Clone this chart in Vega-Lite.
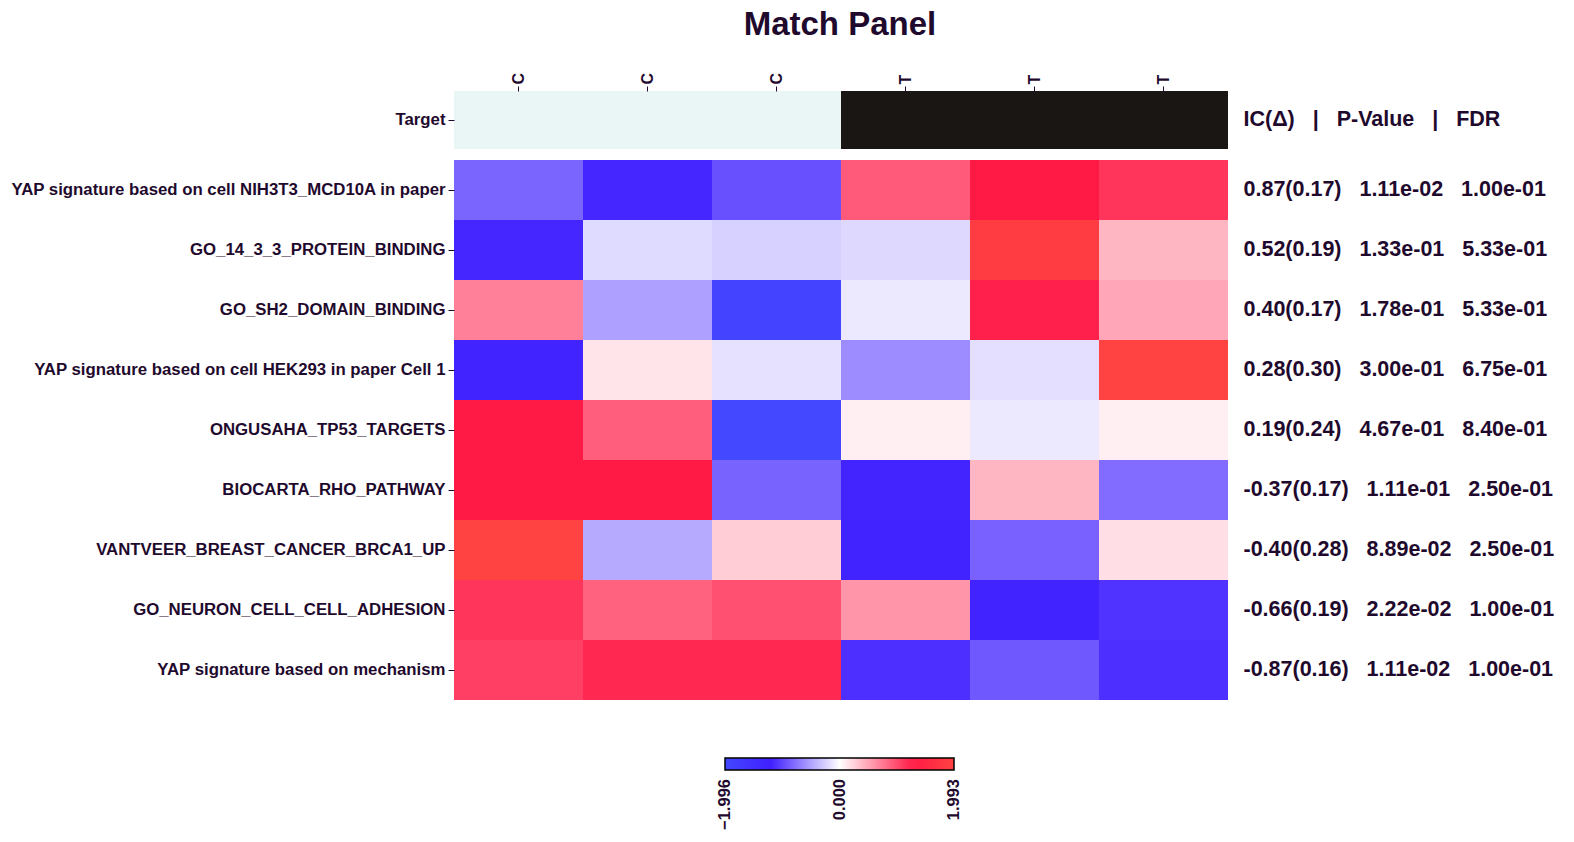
{
  "$schema": "https://vega.github.io/schema/vega-lite/v6.json",
  "background": "white",
  "padding": {"left": 10, "top": 9, "right": 5, "bottom": 5},
  "config": {
    "font": "Liberation Sans",
    "view": {"stroke": null},
    "axis": {"labelFont": "Liberation Sans", "labelFontWeight": "bold", "labelColor": "#1f0a2e", "tickColor": "#1f0a2e", "domain": false, "grid": false}
  },
  "title": {"text": "Match Panel", "fontSize": 33, "fontWeight": "bold", "color": "#1f0a2e", "font": "Liberation Sans", "anchor": "middle", "offset": 30, "dx": 58},
  "spacing": 11,
  "datasets": {
    "target": [
      {"sample": "C1", "label": "C", "row": "Target", "header": "IC(Δ)\u00a0\u00a0\u00a0|\u00a0\u00a0\u00a0P-Value\u00a0\u00a0\u00a0|\u00a0\u00a0\u00a0FDR"},
      {"sample": "C2", "label": "C", "row": "Target", "header": "IC(Δ)\u00a0\u00a0\u00a0|\u00a0\u00a0\u00a0P-Value\u00a0\u00a0\u00a0|\u00a0\u00a0\u00a0FDR"},
      {"sample": "C3", "label": "C", "row": "Target", "header": "IC(Δ)\u00a0\u00a0\u00a0|\u00a0\u00a0\u00a0P-Value\u00a0\u00a0\u00a0|\u00a0\u00a0\u00a0FDR"},
      {"sample": "T1", "label": "T", "row": "Target", "header": "IC(Δ)\u00a0\u00a0\u00a0|\u00a0\u00a0\u00a0P-Value\u00a0\u00a0\u00a0|\u00a0\u00a0\u00a0FDR"},
      {"sample": "T2", "label": "T", "row": "Target", "header": "IC(Δ)\u00a0\u00a0\u00a0|\u00a0\u00a0\u00a0P-Value\u00a0\u00a0\u00a0|\u00a0\u00a0\u00a0FDR"},
      {"sample": "T3", "label": "T", "row": "Target", "header": "IC(Δ)\u00a0\u00a0\u00a0|\u00a0\u00a0\u00a0P-Value\u00a0\u00a0\u00a0|\u00a0\u00a0\u00a0FDR"}
    ],
    "rowstats": [
      {"order": 1, "stat": "0.87(0.17)\u00a0\u00a0\u00a01.11e-02\u00a0\u00a0\u00a01.00e-01"},
      {"order": 2, "stat": "0.52(0.19)\u00a0\u00a0\u00a01.33e-01\u00a0\u00a0\u00a05.33e-01"},
      {"order": 3, "stat": "0.40(0.17)\u00a0\u00a0\u00a01.78e-01\u00a0\u00a0\u00a05.33e-01"},
      {"order": 4, "stat": "0.28(0.30)\u00a0\u00a0\u00a03.00e-01\u00a0\u00a0\u00a06.75e-01"},
      {"order": 5, "stat": "0.19(0.24)\u00a0\u00a0\u00a04.67e-01\u00a0\u00a0\u00a08.40e-01"},
      {"order": 6, "stat": "-0.37(0.17)\u00a0\u00a0\u00a01.11e-01\u00a0\u00a0\u00a02.50e-01"},
      {"order": 7, "stat": "-0.40(0.28)\u00a0\u00a0\u00a08.89e-02\u00a0\u00a0\u00a02.50e-01"},
      {"order": 8, "stat": "-0.66(0.19)\u00a0\u00a0\u00a02.22e-02\u00a0\u00a0\u00a01.00e-01"},
      {"order": 9, "stat": "-0.87(0.16)\u00a0\u00a0\u00a01.11e-02\u00a0\u00a0\u00a01.00e-01"}
    ],
    "cells": [
      {"order": 1, "set": "YAP signature based on cell NIH3T3_MCD10A in paper", "sample": "C1", "value": -0.83},
      {"order": 1, "set": "YAP signature based on cell NIH3T3_MCD10A in paper", "sample": "C2", "value": -1.17},
      {"order": 1, "set": "YAP signature based on cell NIH3T3_MCD10A in paper", "sample": "C3", "value": -0.94},
      {"order": 1, "set": "YAP signature based on cell NIH3T3_MCD10A in paper", "sample": "T1", "value": 0.92},
      {"order": 1, "set": "YAP signature based on cell NIH3T3_MCD10A in paper", "sample": "T2", "value": 1.28},
      {"order": 1, "set": "YAP signature based on cell NIH3T3_MCD10A in paper", "sample": "T3", "value": 1.13},
      {"order": 2, "set": "GO_14_3_3_PROTEIN_BINDING", "sample": "C1", "value": -1.17},
      {"order": 2, "set": "GO_14_3_3_PROTEIN_BINDING", "sample": "C2", "value": -0.2},
      {"order": 2, "set": "GO_14_3_3_PROTEIN_BINDING", "sample": "C3", "value": -0.25},
      {"order": 2, "set": "GO_14_3_3_PROTEIN_BINDING", "sample": "T1", "value": -0.21},
      {"order": 2, "set": "GO_14_3_3_PROTEIN_BINDING", "sample": "T2", "value": 1.88},
      {"order": 2, "set": "GO_14_3_3_PROTEIN_BINDING", "sample": "T3", "value": 0.41},
      {"order": 3, "set": "GO_SH2_DOMAIN_BINDING", "sample": "C1", "value": 0.71},
      {"order": 3, "set": "GO_SH2_DOMAIN_BINDING", "sample": "C2", "value": -0.51},
      {"order": 3, "set": "GO_SH2_DOMAIN_BINDING", "sample": "C3", "value": -1.9},
      {"order": 3, "set": "GO_SH2_DOMAIN_BINDING", "sample": "T1", "value": -0.12},
      {"order": 3, "set": "GO_SH2_DOMAIN_BINDING", "sample": "T2", "value": 1.24},
      {"order": 3, "set": "GO_SH2_DOMAIN_BINDING", "sample": "T3", "value": 0.49},
      {"order": 4, "set": "YAP signature based on cell HEK293 in paper Cell 1", "sample": "C1", "value": -1.25},
      {"order": 4, "set": "YAP signature based on cell HEK293 in paper Cell 1", "sample": "C2", "value": 0.15},
      {"order": 4, "set": "YAP signature based on cell HEK293 in paper Cell 1", "sample": "C3", "value": -0.16},
      {"order": 4, "set": "YAP signature based on cell HEK293 in paper Cell 1", "sample": "T1", "value": -0.62},
      {"order": 4, "set": "YAP signature based on cell HEK293 in paper Cell 1", "sample": "T2", "value": -0.17},
      {"order": 4, "set": "YAP signature based on cell HEK293 in paper Cell 1", "sample": "T3", "value": 1.99},
      {"order": 5, "set": "ONGUSAHA_TP53_TARGETS", "sample": "C1", "value": 1.28},
      {"order": 5, "set": "ONGUSAHA_TP53_TARGETS", "sample": "C2", "value": 0.9},
      {"order": 5, "set": "ONGUSAHA_TP53_TARGETS", "sample": "C3", "value": -1.99},
      {"order": 5, "set": "ONGUSAHA_TP53_TARGETS", "sample": "T1", "value": 0.09},
      {"order": 5, "set": "ONGUSAHA_TP53_TARGETS", "sample": "T2", "value": -0.12},
      {"order": 5, "set": "ONGUSAHA_TP53_TARGETS", "sample": "T3", "value": 0.09},
      {"order": 6, "set": "BIOCARTA_RHO_PATHWAY", "sample": "C1", "value": 1.28},
      {"order": 6, "set": "BIOCARTA_RHO_PATHWAY", "sample": "C2", "value": 1.28},
      {"order": 6, "set": "BIOCARTA_RHO_PATHWAY", "sample": "C3", "value": -0.84},
      {"order": 6, "set": "BIOCARTA_RHO_PATHWAY", "sample": "T1", "value": -1.18},
      {"order": 6, "set": "BIOCARTA_RHO_PATHWAY", "sample": "T2", "value": 0.41},
      {"order": 6, "set": "BIOCARTA_RHO_PATHWAY", "sample": "T3", "value": -0.79},
      {"order": 7, "set": "VANTVEER_BREAST_CANCER_BRCA1_UP", "sample": "C1", "value": 1.99},
      {"order": 7, "set": "VANTVEER_BREAST_CANCER_BRCA1_UP", "sample": "C2", "value": -0.46},
      {"order": 7, "set": "VANTVEER_BREAST_CANCER_BRCA1_UP", "sample": "C3", "value": 0.28},
      {"order": 7, "set": "VANTVEER_BREAST_CANCER_BRCA1_UP", "sample": "T1", "value": -1.25},
      {"order": 7, "set": "VANTVEER_BREAST_CANCER_BRCA1_UP", "sample": "T2", "value": -0.85},
      {"order": 7, "set": "VANTVEER_BREAST_CANCER_BRCA1_UP", "sample": "T3", "value": 0.18},
      {"order": 8, "set": "GO_NEURON_CELL_CELL_ADHESION", "sample": "C1", "value": 1.13},
      {"order": 8, "set": "GO_NEURON_CELL_CELL_ADHESION", "sample": "C2", "value": 0.88},
      {"order": 8, "set": "GO_NEURON_CELL_CELL_ADHESION", "sample": "C3", "value": 0.98},
      {"order": 8, "set": "GO_NEURON_CELL_CELL_ADHESION", "sample": "T1", "value": 0.59},
      {"order": 8, "set": "GO_NEURON_CELL_CELL_ADHESION", "sample": "T2", "value": -1.25},
      {"order": 8, "set": "GO_NEURON_CELL_CELL_ADHESION", "sample": "T3", "value": -1.1},
      {"order": 9, "set": "YAP signature based on mechanism", "sample": "C1", "value": 1.07},
      {"order": 9, "set": "YAP signature based on mechanism", "sample": "C2", "value": 1.2},
      {"order": 9, "set": "YAP signature based on mechanism", "sample": "C3", "value": 1.2},
      {"order": 9, "set": "YAP signature based on mechanism", "sample": "T1", "value": -1.12},
      {"order": 9, "set": "YAP signature based on mechanism", "sample": "T2", "value": -0.9},
      {"order": 9, "set": "YAP signature based on mechanism", "sample": "T3", "value": -1.12}
    ]
  },
  "vconcat": [
    {
      "width": 774,
      "height": 58,
      "data": {"name": "target"},
      "layer": [
        {
          "mark": {"type": "rect"},
          "encoding": {
            "x": {"field": "sample", "type": "ordinal", "axis": {"orient": "top", "title": null, "labelAngle": -90, "labelAlign": "left", "labelBaseline": "middle", "labelExpr": "slice(datum.label, 0, 1)", "labelFontSize": 16, "tickSize": 5, "labelPadding": 2}},
            "y": {"field": "row", "type": "nominal", "axis": {"title": null, "labelFontSize": 16.8, "tickSize": 6, "labelPadding": 3}},
            "color": {"field": "label", "type": "nominal", "scale": {"domain": ["C", "T"], "range": ["#eaf6f6", "#1a1614"]}, "legend": null}
          }
        },
        {
          "mark": {"type": "rect", "opacity": 0},
          "encoding": {
            "y": {"field": "header", "type": "nominal", "axis": {"orient": "right", "title": null, "ticks": false, "labelFontSize": 21.5, "labelPadding": 15, "labelLimit": 600, "labelAlign": "left"}}
          }
        }
      ],
      "resolve": {"scale": {"y": "independent"}}
    },
    {
      "width": 774,
      "height": 540,
      "layer": [
        {
          "data": {"name": "cells"},
          "mark": {"type": "rect"},
          "encoding": {
            "x": {"field": "sample", "type": "ordinal", "axis": null},
            "y": {"field": "set", "type": "nominal", "sort": {"field": "order", "op": "min"}, "axis": {"title": null, "labelFontSize": 16.8, "tickSize": 6, "labelPadding": 3, "labelLimit": 700}},
            "color": {
              "field": "value", "type": "quantitative",
              "scale": {"type": "linear", "domain": [-1.996, -1.2, 0, 1.28, 1.993], "range": ["#4448ff", "#4020ff", "#ffffff", "#ff1a45", "#ff4242"], "interpolate": "rgb"},
              "legend": {
                "orient": "none", "direction": "horizontal", "legendX": 271, "legendY": 598,
                "title": null, "gradientLength": 229, "gradientThickness": 12,
                "gradientStrokeColor": "#000000", "gradientStrokeWidth": 1.5,
                "values": [-1.996, 0, 1.993], "format": ".3f",
                "labelExpr": "replace(datum.label, '-', '−')",
                "labelFont": "Liberation Sans", "labelFontWeight": "bold", "labelFontSize": 16.5, "labelColor": "#1f0a2e",
                "labelOverlap": false, "labelOffset": 9, "labelLimit": 200,
                "encode": {"labels": {"update": {"angle": {"value": -90}, "align": {"value": "right"}, "baseline": {"value": "middle"}, "fontSize": {"value": 16.5}, "fontWeight": {"value": "bold"}, "font": {"value": "Liberation Sans"}, "fill": {"value": "#1f0a2e"}}}}
              }
            }
          }
        },
        {
          "data": {"name": "rowstats"},
          "mark": {"type": "rect", "opacity": 0},
          "encoding": {
            "y": {"field": "stat", "type": "nominal", "sort": {"field": "order", "op": "min"}, "axis": {"orient": "right", "title": null, "ticks": false, "labelFontSize": 21.5, "labelPadding": 15, "labelLimit": 600, "labelAlign": "left"}}
          }
        }
      ],
      "resolve": {"scale": {"y": "independent"}}
    }
  ]
}
